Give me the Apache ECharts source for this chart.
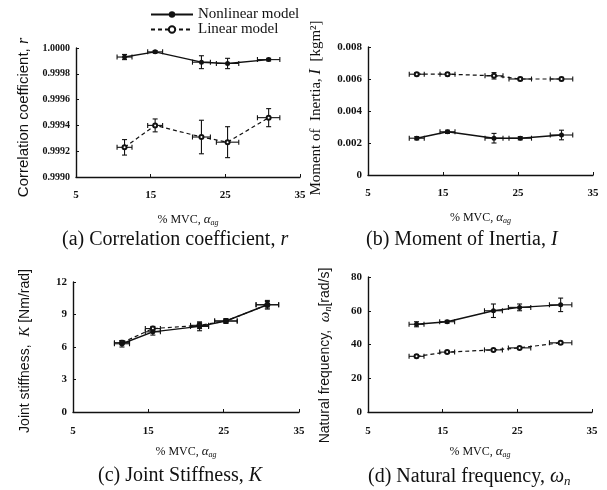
<!DOCTYPE html>
<html>
<head>
<meta charset="utf-8">
<script src="https://cdn.jsdelivr.net/npm/echarts@6/dist/echarts.min.js"></script>
<style>
  html, body { margin: 0; padding: 0; background: #fff; }
  #chart { width: 607px; height: 490px; }
</style>
</head>
<body>
<div id="chart"></div>
<script>
// % MVC levels (shared by every panel) and their horizontal error
const xMean = [11.5, 15.6, 21.8, 25.3, 30.8];
const xErr = [1.0, 1.0, 1.2, 1.5, 1.5];

// (a) correlation coefficient
const rNonlin = [0.99993, 0.99997, 0.99989, 0.99988, 0.99991];
const rNonlinErr = [0.00002, 0.00001, 0.00005, 0.00004, 0.00001];
const rLin = [0.99923, 0.99940, 0.99931, 0.99927, 0.99946];
const rLinErr = [0.00006, 0.00005, 0.00013, 0.00012, 0.00007];

// (b) moment of inertia
const iNonlin = [0.0023, 0.0027, 0.0023, 0.0023, 0.0025];
const iNonlinErr = [0.0001, 0.0001, 0.0003, 0.0001, 0.0003];
const iLin = [0.0063, 0.0063, 0.0062, 0.0060, 0.0060];
const iLinErr = [0.0001, 0.0001, 0.0002, 0.0001, 0.0001];

// (c) joint stiffness
const kNonlin = [6.3, 7.4, 7.9, 8.4, 9.9];
const kNonlinErr = [0.3, 0.3, 0.4, 0.2, 0.4];
const kLin = [6.4, 7.7, 8.0, 8.4, 9.9];
const kLinErr = [0.2, 0.2, 0.3, 0.2, 0.3];

// (d) natural frequency
const wNonlin = [52, 53.5, 60, 62, 63.5];
const wNonlinErr = [1.5, 0.8, 4, 2, 4];
const wLin = [33, 35.5, 36.8, 38, 41];
const wLinErr = [0.8, 0.6, 0.8, 0.8, 0.8];

const serif = '"Liberation Serif", "DejaVu Serif", serif';
const sans = '"Liberation Sans", Arial, sans-serif';

function pairs(ys) { return xMean.map((x, i) => [x, ys[i]]); }
function errData(ys, es) { return xMean.map((x, i) => [x, ys[i], xErr[i], es[i]]); }

function renderErr(params, api) {
  const x = api.value(0), y = api.value(1), xe = api.value(2), ye = api.value(3);
  const l = api.coord([x - xe, y]), r = api.coord([x + xe, y]);
  const t = api.coord([x, y + ye]), b = api.coord([x, y - ye]);
  const c = 2.5;
  const st = { stroke: '#111', lineWidth: 1.1 };
  const seg = (x1, y1, x2, y2) => ({ type: 'line', shape: { x1, y1, x2, y2 }, style: st });
  return {
    type: 'group',
    children: [
      seg(l[0], l[1], r[0], r[1]),
      seg(l[0], l[1] - c, l[0], l[1] + c),
      seg(r[0], r[1] - c, r[0], r[1] + c),
      seg(t[0], t[1], b[0], b[1]),
      seg(t[0] - c, t[1], t[0] + c, t[1]),
      seg(b[0] - c, b[1], b[0] + c, b[1])
    ]
  };
}

const grids = [
  { left: 76, top: 48, width: 224, height: 129 },
  { left: 368, top: 47, width: 225, height: 128 },
  { left: 73, top: 282, width: 226, height: 130 },
  { left: 368, top: 277, width: 224, height: 135 }
];

const axisLine = { lineStyle: { color: '#111', width: 1.4 } };
const tickStyle = { inside: true, length: 3, lineStyle: { color: '#111' } };
const labelStyle = { color: '#111', fontFamily: serif, fontWeight: 'bold', fontSize: 11 };
const xName = '{n|% MVC, }{a|α}{s|ag}';
const xNameStyle = {
  color: '#111', fontFamily: serif, fontSize: 12,
  rich: {
    n: { fontFamily: serif, fontSize: 12, color: '#111' },
    a: { fontFamily: serif, fontStyle: 'italic', fontSize: 13, color: '#111' },
    s: { fontFamily: serif, fontStyle: 'italic', fontSize: 8, color: '#111', padding: [6, 0, 0, 0] }
  }
};

const xAxes = grids.map((g, i) => ({
  gridIndex: i, type: 'value', min: 5, max: 35, interval: 10,
  axisLine, axisTick: tickStyle, splitLine: { show: false },
  axisLabel: Object.assign({ margin: i < 2 ? 13 : 14 }, labelStyle),
  name: xName, nameLocation: 'middle', nameGap: i < 2 ? 36 : 33, nameTextStyle: xNameStyle
}));

const yNames = [
  'Correlation coefficient, {i|r}',
  'Moment of  Inertia, {i|I}  [kgm²]',
  'Joint stiffness,  {i|K} [Nm/rad]',
  'Natural frequency,  {i|ω}{s|n}[rad/s]'
];
const yCfg = [
  { min: 0.999, max: 1.0, interval: 0.0002, fmt: v => v.toFixed(4), gap: 44, font: sans, size: 15, lab: 10, pad: [0, 10, 0, 0] },
  { min: 0, max: 0.008, interval: 0.002, fmt: v => v === 0 ? '0' : v.toFixed(3), gap: 44, font: serif, size: 15, lab: 11, pad: [0, 0, 0, 6] },
  { min: 0, max: 12, interval: 3, fmt: v => String(v), gap: 40, font: sans, size: 14, lab: 11, pad: [0, 8, 0, 0] },
  { min: 0, max: 80, interval: 20, fmt: v => String(v), gap: 35, font: sans, size: 14, lab: 11, pad: [0, 22, 0, 0] }
];
const yAxes = yCfg.map((c, i) => ({
  gridIndex: i, type: 'value', min: c.min, max: c.max, interval: c.interval,
  axisLine: { show: true, lineStyle: { color: '#111', width: 1.4 } },
  axisTick: tickStyle, splitLine: { show: false },
  axisLabel: Object.assign({}, labelStyle, { margin: 6, formatter: c.fmt, fontSize: c.lab }),
  name: yNames[i], nameLocation: 'middle', nameRotate: 90, nameGap: c.gap,
  nameTextStyle: {
    color: '#111', fontFamily: c.font, fontSize: c.size, padding: c.pad,
    rich: {
      i: { fontFamily: serif, fontStyle: 'italic', fontSize: c.size + 1, color: '#111' },
      s: { fontFamily: serif, fontStyle: 'italic', fontSize: 10, color: '#111', padding: [6, 0, 0, 0] }
    }
  }
}));

const panels = [
  [rNonlin, rNonlinErr, rLin, rLinErr],
  [iNonlin, iNonlinErr, iLin, iLinErr],
  [kNonlin, kNonlinErr, kLin, kLinErr],
  [wNonlin, wNonlinErr, wLin, wLinErr]
];

const series = [];
panels.forEach((p, i) => {
  series.push({
    type: 'custom', xAxisIndex: i, yAxisIndex: i, renderItem: renderErr,
    data: errData(p[2], p[3]), encode: { x: 0, y: 1 }, silent: true, z: 1
  });
  series.push({
    type: 'custom', xAxisIndex: i, yAxisIndex: i, renderItem: renderErr,
    data: errData(p[0], p[1]), encode: { x: 0, y: 1 }, silent: true, z: 1
  });
  series.push({
    name: 'Linear model', type: 'line', xAxisIndex: i, yAxisIndex: i,
    data: pairs(p[2]), symbol: 'emptyCircle', symbolSize: 4,
    lineStyle: { color: '#111', width: 1.2, type: [4, 3] },
    itemStyle: { color: '#111', borderColor: '#111', borderWidth: 1 }, z: 3
  });
  series.push({
    name: 'Nonlinear model', type: 'line', xAxisIndex: i, yAxisIndex: i,
    data: pairs(p[0]), symbol: 'circle', symbolSize: 5,
    lineStyle: { color: '#111', width: 1.4 },
    itemStyle: { color: '#111' }, z: 4
  });
});

const capStyle = {
  color: '#111', fontFamily: serif, fontSize: 20, fontWeight: 'normal',
  rich: {
    i: { fontFamily: serif, fontStyle: 'italic', fontSize: 20, color: '#111' },
    s: { fontFamily: serif, fontStyle: 'italic', fontSize: 13, color: '#111', padding: [9, 0, 0, 0] }
  }
};
const captions = [
  { text: '(a) Correlation coefficient, {i|r}', left: 62, top: 230 },
  { text: '(b) Moment of Inertia, {i|I}', left: 366, top: 230 },
  { text: '(c) Joint Stiffness, {i|K}', left: 98, top: 466 },
  { text: '(d) Natural frequency, {i|ω}{s|n}', left: 368, top: 466 }
];

const chart = echarts.init(document.getElementById('chart'));
chart.setOption({
  backgroundColor: '#fff',
  animation: false,
  title: captions.map(c => ({ text: c.text, left: c.left, top: c.top, padding: 0, textStyle: capStyle })),
  legend: {
    data: ['Nonlinear model', 'Linear model'],
    orient: 'vertical', left: 145, top: 2, itemWidth: 42, itemHeight: 8, itemGap: 0,
    textStyle: { color: '#111', fontFamily: serif, fontSize: 15 }
  },
  grid: grids,
  xAxis: xAxes,
  yAxis: yAxes,
  series
});
</script>
</body>
</html>
